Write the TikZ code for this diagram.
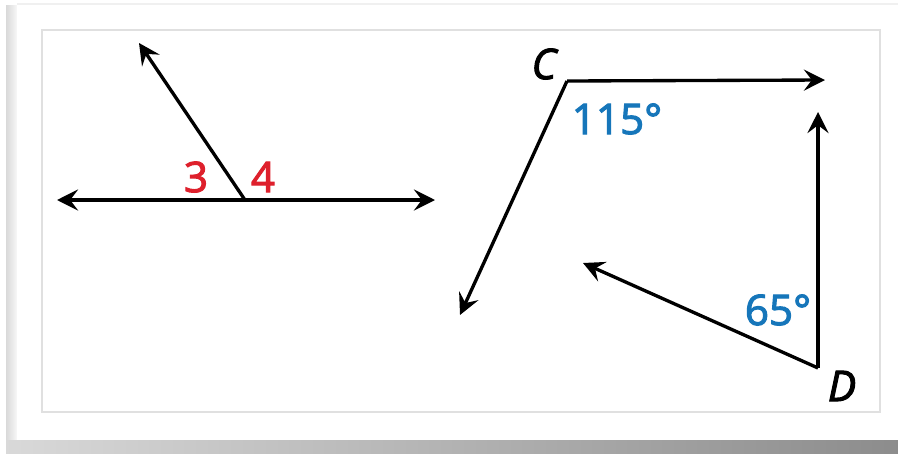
\documentclass[tikz,border=0pt]{standalone}
\usepackage{fontspec}
\setmainfont{Open Sans}
\newfontfamily\lblfont{Open Sans}[FakeBold=2.5]
\usetikzlibrary{arrows.meta, positioning}
\definecolor{anglered}{RGB}{222,32,44}
\definecolor{angleblue}{RGB}{22,118,186}

\begin{document}
\begin{tikzpicture}[
  x=0.02cm, y=-0.02cm,
  arr/.style={-{Stealth[length=12pt, width=12pt, inset=4.5pt]}, line width=1.9pt},
  lbl/.style={inner sep=0pt, font=\fontsize{24}{28}\lblfont},
  numred/.style={lbl, text=anglered},
  numblue/.style={lbl, text=angleblue},
  pname/.style={lbl, font=\fontsize{24}{28}\lblfont\itshape}
]
  \useasboundingbox (0,0) rectangle (898,453);
  % card with shadow
  \fill[white] (0,0) rectangle (898,453);
  \shade[left color=black!15, right color=black!3] (6,5) rectangle (17,453);
  \shade[left color=black!15, right color=black!45] (6,440) rectangle (898,453);
  \fill[black!6] (17,3) rectangle (898,5);
  \fill[white] (17,5) rectangle (898,440);
  \draw[black!12, line width=0.6pt] (42,30) rectangle (880,412);

  % left figure
  \coordinate (v) at (245,200);
  \coordinate (lend) at (57,200);
  \coordinate (rend) at (435,200);
  \coordinate (uend) at (139,43);
  \draw[arr] (v) -- (lend);
  \draw[arr] (v) -- (rend);
  \draw[arr] (v) -- (uend);
  \node[numred] (three) at (196,177) {3};
  \node[numred] (four) at (263,177) {4};

  % right figure
  \coordinate (C) at (567,81);
  \coordinate (cright) at (825,80);
  \coordinate (cdown) at (460,315);
  \draw[arr] (C) -- (cright);
  \draw[arr] (C) -- (cdown);
  \node[pname] (labC) at (544,64) {C};
  \node[numblue] (angC) at (617,119) {115°};

  \coordinate (D) at (818,368);
  \coordinate (dup) at (818,112);
  \coordinate (dleft) at (583,263);
  \draw[arr] (D) -- (dup);
  \draw[arr] (D) -- (dleft);
  \node[pname] (labD) at (842,386) {D};
  \node[numblue] (angD) at (778,310) {65°};
\end{tikzpicture}
\end{document}
